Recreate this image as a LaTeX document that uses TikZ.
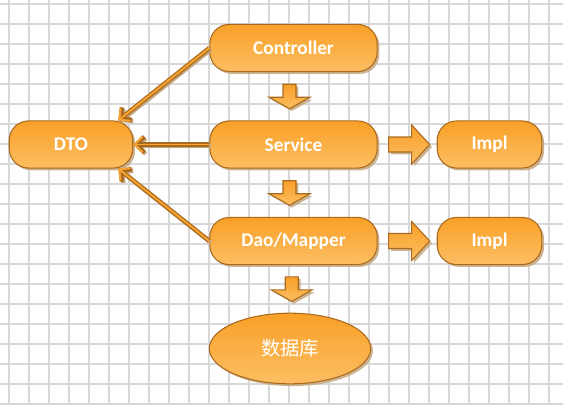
\documentclass[tikz,border=0pt]{standalone}
\usepackage{fontspec}
\setmainfont{Carlito}
\newfontfamily\cjk{Noto Sans CJK SC}
\usetikzlibrary{arrows.meta,shapes.geometric,shadows,calc}
\definecolor{peel}{RGB}{249,160,40}
\definecolor{pulp}{RGB}{252,190,98}
\definecolor{rind}{RGB}{170,106,30}
\definecolor{husk}{RGB}{196,166,126}
\definecolor{gridline}{RGB}{216,216,216}
\tikzset{
  >={Straight Barb[length=4.5pt,width=9pt]},
  pill/.style={rounded corners=11pt,draw=rind,line width=0.6pt,top color=peel,bottom color=pulp,
    text=white,font=\fontsize{11}{13}\selectfont\bfseries,inner sep=0pt,
    minimum width=#1,minimum height=26.8pt,
    drop shadow={shadow xshift=1.3pt,shadow yshift=-1.3pt,fill=husk,opacity=0.85}},
  pill/.default=95.2pt,
  store/.style={ellipse,draw=rind,line width=0.6pt,top color=peel,bottom color=pulp,
    text=white,font=\fontsize{11}{13}\selectfont\cjk,inner sep=0pt,
    minimum width=91.8pt,minimum height=40.2pt,
    drop shadow={shadow xshift=1.3pt,shadow yshift=-1.3pt,fill=husk,opacity=0.85}},
  block/.style={draw=rind,line width=0.6pt,top color=peel,bottom color=pulp,
    drop shadow={shadow xshift=1.3pt,shadow yshift=-1.3pt,fill=husk,opacity=0.85}},
  link/.style={->,draw=peel!85!pulp,line width=1.1pt,
    preaction={draw=husk,line width=2.5pt,transform canvas={shift={(0.8pt,-0.8pt)}}},
    preaction={draw=rind,line width=2.5pt}},
  % block arrows (pixel units, y points down)
  pics/downblock/.style={code={
    \path[block] (-6.5,-12) -- (6.5,-12) -- (6.5,1) -- (20.5,1) -- (0,12.5) -- (-20.5,1) -- (-6.5,1) -- cycle;
  }},
  pics/rightblock/.style={code={
    \path[block] (-20.5,-7.5) -- (2.5,-7.5) -- (2.5,-19.5) -- (20.5,0) -- (2.5,19.5) -- (2.5,7.5) -- (-20.5,7.5) -- cycle;
  }},
}
\begin{document}
\begin{tikzpicture}[x=0.02cm,y=-0.02cm]
  \useasboundingbox[fill=white] (0,0) rectangle (563,405);
  % grid
  \foreach \gx in {9,29,...,549} \draw[gridline,line width=0.6pt] (\gx,0) -- (\gx,405);
  \foreach \gy in {4,24,...,404} \draw[gridline,line width=0.6pt] (0,\gy) -- (563,\gy);

  \node[pill] (ctrl) at (293.5,48) {Controller};
  \node[pill] (svc) at (293.5,144.5) {Service};
  \node[pill] (dao) at (293.5,241) {Dao/Mapper};
  \node[pill=70.3pt] (dto) at (71,144.5) {DTO};
  \node[pill=59.5pt] (impls) at (489.5,144.5) {Impl};
  \node[pill=59.5pt] (impld) at (489.5,241) {Impl};
  \node[store] (db) at (290,348.5) {数据库};

  \pic at ($(ctrl.south)!0.5!(svc.north)+(-4,0)$) {downblock};
  \pic at ($(svc.south)!0.5!(dao.north)+(-4,0)$) {downblock};
  \pic at ($(dao.south)!0.5!(db.north)+(0,0)$) {downblock};
  \pic at ($(svc.east)!0.5!(impls.west)+(2,0)$) {rightblock};
  \pic at ($(dao.east)!0.5!(impld.west)+(2,0)$) {rightblock};

  \draw[link] (ctrl.west) -- (dto.27);
  \draw[link] (svc.west) -- (dto.east);
  \draw[link] (dao.west) -- (dto.-27);
\end{tikzpicture}
\end{document}
